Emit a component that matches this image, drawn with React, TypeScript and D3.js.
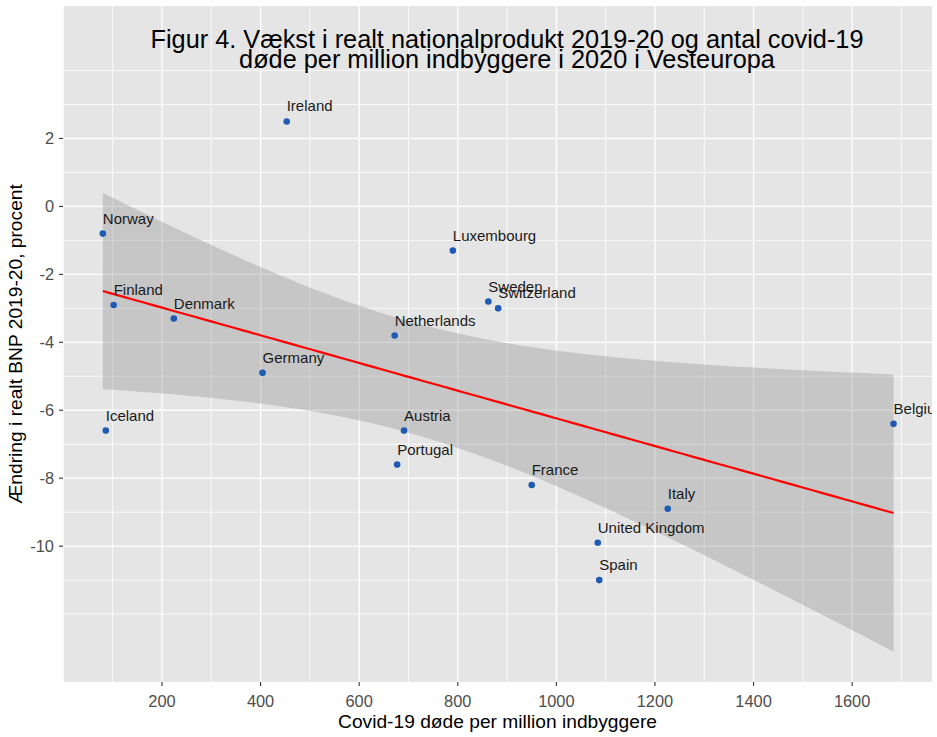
import * as d3 from "d3";
import { useMemo } from "react";

// Vesteuropa: covid-19 døde per mio. (2020) mod vækst i realt BNP 2019-20
const countries = [
  "Ireland", "Norway", "Finland", "Denmark", "Germany", "Iceland",
  "Luxembourg", "Sweden", "Switzerland", "Netherlands", "Austria",
  "Portugal", "France", "Italy", "United Kingdom", "Spain", "Belgium",
];
const deaths = [453, 80, 102, 224, 404, 86, 790, 862, 882, 672, 691, 677, 950, 1226, 1084, 1087, 1684];
const growth = [2.5, -0.8, -2.9, -3.3, -4.9, -6.6, -1.3, -2.8, -3.0, -3.8, -6.6, -7.6, -8.2, -8.9, -9.9, -11.0, -6.4];

const xTicks = [200, 400, 600, 800, 1000, 1200, 1400, 1600];
const xMinor = [0, 100, 300, 500, 700, 900, 1100, 1300, 1500, 1700, 1800];
const yTicks = [-10, -8, -6, -4, -2, 0, 2];
const yMinor = [-12, -11, -9, -7, -5, -3, -1, 1, 3, 4];

const titleLines = [
  "Figur 4. Vækst i realt nationalprodukt 2019-20 og antal covid-19",
  "døde per million indbyggere i 2020 i Vesteuropa",
];
const xTitle = "Covid-19 døde per million indbyggere";
const yTitle = "Ændring i realt BNP 2019-20, procent";

const WIDTH = 937;
const HEIGHT = 737;
const PANEL = { left: 63, top: 6, right: 932, bottom: 682 };
const T_CRIT = 2.131; // t(0.975, df = 15)
const FONT = "'Liberation Sans', Arial, sans-serif";

export default function App() {
  const x = d3.scaleLinear().domain([0, 1762]).range([PANEL.left + 0.4, PANEL.right]);
  const y = d3.scaleLinear().domain([-14.0, 5.9]).range([PANEL.bottom, PANEL.top]);

  // lm-fit med 95% konfidensbånd (som geom_smooth(method = "lm"))
  const smooth = useMemo(() => {
    const n = deaths.length;
    const mx = d3.mean(deaths) as number;
    const my = d3.mean(growth) as number;
    const sxx = d3.sum(deaths, (d) => (d - mx) ** 2);
    const sxy = d3.sum(deaths, (d, i) => (d - mx) * (growth[i] - my));
    const b = sxy / sxx;
    const a = my - b * mx;
    const rss = d3.sum(deaths, (d, i) => (growth[i] - (a + b * d)) ** 2);
    const s = Math.sqrt(rss / (n - 2));
    const [lo, hi] = d3.extent(deaths) as [number, number];
    return d3.range(80).map((i) => {
      const xv = lo + ((hi - lo) * i) / 79;
      const fit = a + b * xv;
      const se = s * Math.sqrt(1 / n + (xv - mx) ** 2 / sxx);
      return { x: xv, fit, ymin: fit - T_CRIT * se, ymax: fit + T_CRIT * se };
    });
  }, []);

  const ribbon = d3.area<{ x: number; ymin: number; ymax: number }>()
    .x((d) => x(d.x))
    .y0((d) => y(d.ymin))
    .y1((d) => y(d.ymax));
  const fitLine = d3.line<{ x: number; fit: number }>()
    .x((d) => x(d.x))
    .y((d) => y(d.fit));

  return (
    <div style={{ position: "absolute", left: 0, top: 0 }}>
      <svg width={WIDTH} height={HEIGHT} style={{ display: "block", background: "white" }}>
        <defs>
          <clipPath id="panel-clip">
            <rect x={PANEL.left} y={PANEL.top} width={PANEL.right - PANEL.left} height={PANEL.bottom - PANEL.top} />
          </clipPath>
        </defs>
        <rect x={PANEL.left} y={PANEL.top} width={PANEL.right - PANEL.left} height={PANEL.bottom - PANEL.top} fill="#E5E5E5" />

        {/* grid */}
        {yMinor.map((v) => (
          <line key={"ym" + v} x1={PANEL.left} x2={PANEL.right} y1={y(v)} y2={y(v)} stroke="white" strokeWidth={0.8} />
        ))}
        {xMinor.map((v) => (
          <line key={"xm" + v} x1={x(v)} x2={x(v)} y1={PANEL.top} y2={PANEL.bottom} stroke="white" strokeWidth={0.8} clipPath="url(#panel-clip)" />
        ))}
        {yTicks.map((v) => (
          <line key={"y" + v} x1={PANEL.left} x2={PANEL.right} y1={y(v)} y2={y(v)} stroke="white" strokeWidth={1.3} />
        ))}
        {xTicks.map((v) => (
          <line key={"x" + v} x1={x(v)} x2={x(v)} y1={PANEL.top} y2={PANEL.bottom} stroke="white" strokeWidth={1.3} />
        ))}

        <g clipPath="url(#panel-clip)">
          <path d={ribbon(smooth) ?? ""} fill="#999999" fillOpacity={0.4} />
          <path d={fitLine(smooth) ?? ""} fill="none" stroke="#FF0000" strokeWidth={2.2} />
          {deaths.map((d, i) => (
            <circle key={countries[i]} cx={x(d)} cy={y(growth[i])} r={3.3} fill="#1F5BB4" />
          ))}
          {deaths.map((d, i) => (
            <text key={"l" + countries[i]} x={x(d)} y={y(growth[i]) - 10} fontFamily={FONT} fontSize={15} fill="#1A1A1A">
              {countries[i]}
            </text>
          ))}
        </g>

        {/* axes */}
        {xTicks.map((v) => (
          <g key={"xt" + v}>
            <line x1={x(v)} x2={x(v)} y1={PANEL.bottom} y2={PANEL.bottom + 4} stroke="#333333" strokeWidth={1.1} />
            <text x={x(v)} y={706.5} textAnchor="middle" fontFamily={FONT} fontSize={16.4} fill="#4D4D4D">
              {v}
            </text>
          </g>
        ))}
        {yTicks.map((v) => (
          <g key={"yt" + v}>
            <line x1={PANEL.left - 4} x2={PANEL.left} y1={y(v)} y2={y(v)} stroke="#333333" strokeWidth={1.1} />
            <text x={PANEL.left - 9} y={y(v)} dy="0.35em" textAnchor="end" fontFamily={FONT} fontSize={16.4} fill="#4D4D4D">
              {v}
            </text>
          </g>
        ))}

        <text x={(PANEL.left + PANEL.right) / 2} y={728} textAnchor="middle" fontFamily={FONT} fontSize={19.2} fill="black">
          {xTitle}
        </text>
        <text
          transform={`translate(22, ${(PANEL.top + PANEL.bottom) / 2}) rotate(-90)`}
          textAnchor="middle"
          fontFamily={FONT}
          fontSize={19.2}
          fill="black"
        >
          {yTitle}
        </text>

        {titleLines.map((t, i) => (
          <text key={t} x={507} y={48 + i * 20} textAnchor="middle" fontFamily={FONT} fontSize={25.3} fill="black">
            {t}
          </text>
        ))}
      </svg>
    </div>
  );
}
